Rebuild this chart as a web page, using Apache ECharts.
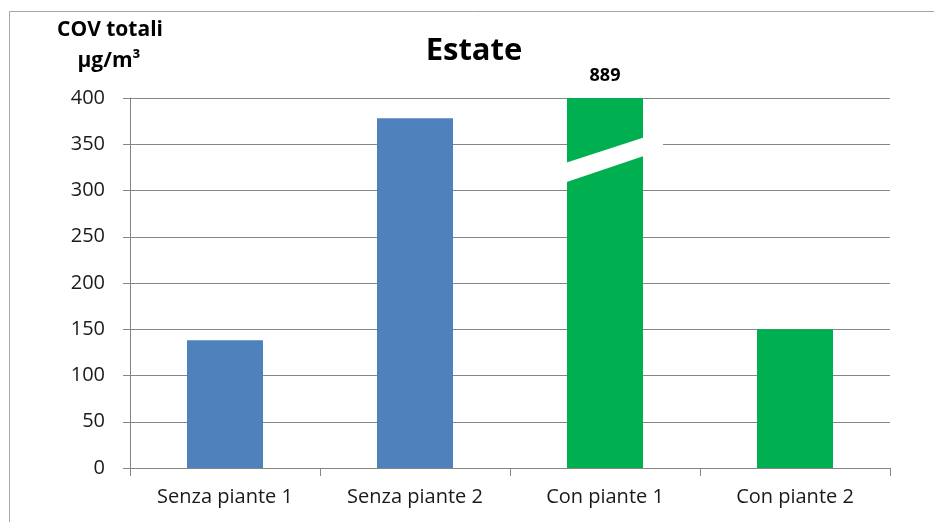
<!DOCTYPE html>
<html><head><meta charset="utf-8">
<script src="https://cdn.jsdelivr.net/npm/echarts@6/dist/echarts.min.js"></script>
<style>html,body{margin:0;padding:0;background:#fff}#c{width:934px;height:522px}</style>
</head><body><div id="c"></div>
<script>
const categories = ['Senza piante 1', 'Senza piante 2', 'Con piante 1', 'Con piante 2'];
const values = [138, 378, 889, 150];
const colors = ['#4F81BD', '#4F81BD', '#00B050', '#00B050'];
const axisMax = 400;
const yTicks = [0, 50, 100, 150, 200, 250, 300, 350, 400];
const brokenIndex = 2;
const breakLower = [309, 337];
const breakUpper = [330, 357];

const chart = echarts.init(document.getElementById('c'));
const font = '"Open Sans", sans-serif';
chart.setOption({
  animation: false,
  grid: {left: 130, right: 44, top: 98, bottom: 54},
  graphic: [
    {type: 'rect', shape: {x: 9.5, y: 11.5, width: 1000, height: 600}, style: {fill: 'none', stroke: '#a6a6a6', lineWidth: 1}, silent: true, z: -10},
    {type: 'text', x: 474, y: 51, style: {text: 'Estate', textAlign: 'center', textVerticalAlign: 'middle', font: 'bold 31px ' + font, fill: '#000'}},
    {type: 'text', x: 110, y: 30, style: {text: 'COV totali', textAlign: 'center', textVerticalAlign: 'middle', font: 'bold 21px ' + font, fill: '#000'}},
    {type: 'text', x: 109, y: 61, style: {text: 'μg/m³', textAlign: 'center', textVerticalAlign: 'middle', font: 'bold 21px ' + font, fill: '#000'}}
  ],
  xAxis: {type: 'category', data: categories,
    axisLine: {lineStyle: {color: '#868686'}},
    axisTick: {show: true, length: 8, lineStyle: {color: '#868686'}},
    axisLabel: {fontFamily: font, fontSize: 20, color: '#1a1a1a', margin: 19}},
  yAxis: {type: 'value', min: 0, max: axisMax, interval: 50,
    axisLine: {show: true, lineStyle: {color: '#868686'}},
    axisTick: {show: true, length: 7, lineStyle: {color: '#868686'}},
    splitLine: {lineStyle: {color: '#868686'}},
    axisLabel: {fontFamily: font, fontSize: 20, color: '#1a1a1a', margin: 25,
      formatter: v => yTicks.includes(v) ? String(v) : ''}},
  series: [
    {type: 'bar', barWidth: '40%',
      data: values.map((v, i) => ({value: Math.min(v, axisMax), itemStyle: {color: colors[i]},
        label: i === brokenIndex ? {show: true, position: 'top', distance: 13, formatter: String(v),
          fontFamily: font, fontSize: 18, fontWeight: 'bold', color: '#000'} : {show: false}}))},
    {type: 'custom', z: 10, silent: true,
      data: [[brokenIndex, breakLower[0], breakLower[1], breakUpper[0], breakUpper[1]]],
      renderItem: function (params, api) {
        const idx = api.value(0);
        const c = api.coord([idx, 0]);
        const bw = api.size([1, 0])[0] * 0.4;
        const xl = c[0] - bw / 2 - 1, xr = c[0] + bw / 2;
        const xe = xr + 20;
        const yl0 = api.coord([idx, api.value(1)])[1];
        const yr0 = api.coord([idx, api.value(2)])[1];
        const yl1 = api.coord([idx, api.value(3)])[1];
        const yr1 = api.coord([idx, api.value(4)])[1];
        const k0 = (yr0 - yl0) / (xr - xl), k1 = (yr1 - yl1) / (xr - xl);
        return {type: 'polygon', shape: {points: [
          [xl, yl1], [xe, yl1 + k1 * (xe - xl)], [xe, yl0 + k0 * (xe - xl)], [xl, yl0]
        ]}, style: {fill: '#fff'}};
      }}
  ]
});
</script></body></html>
